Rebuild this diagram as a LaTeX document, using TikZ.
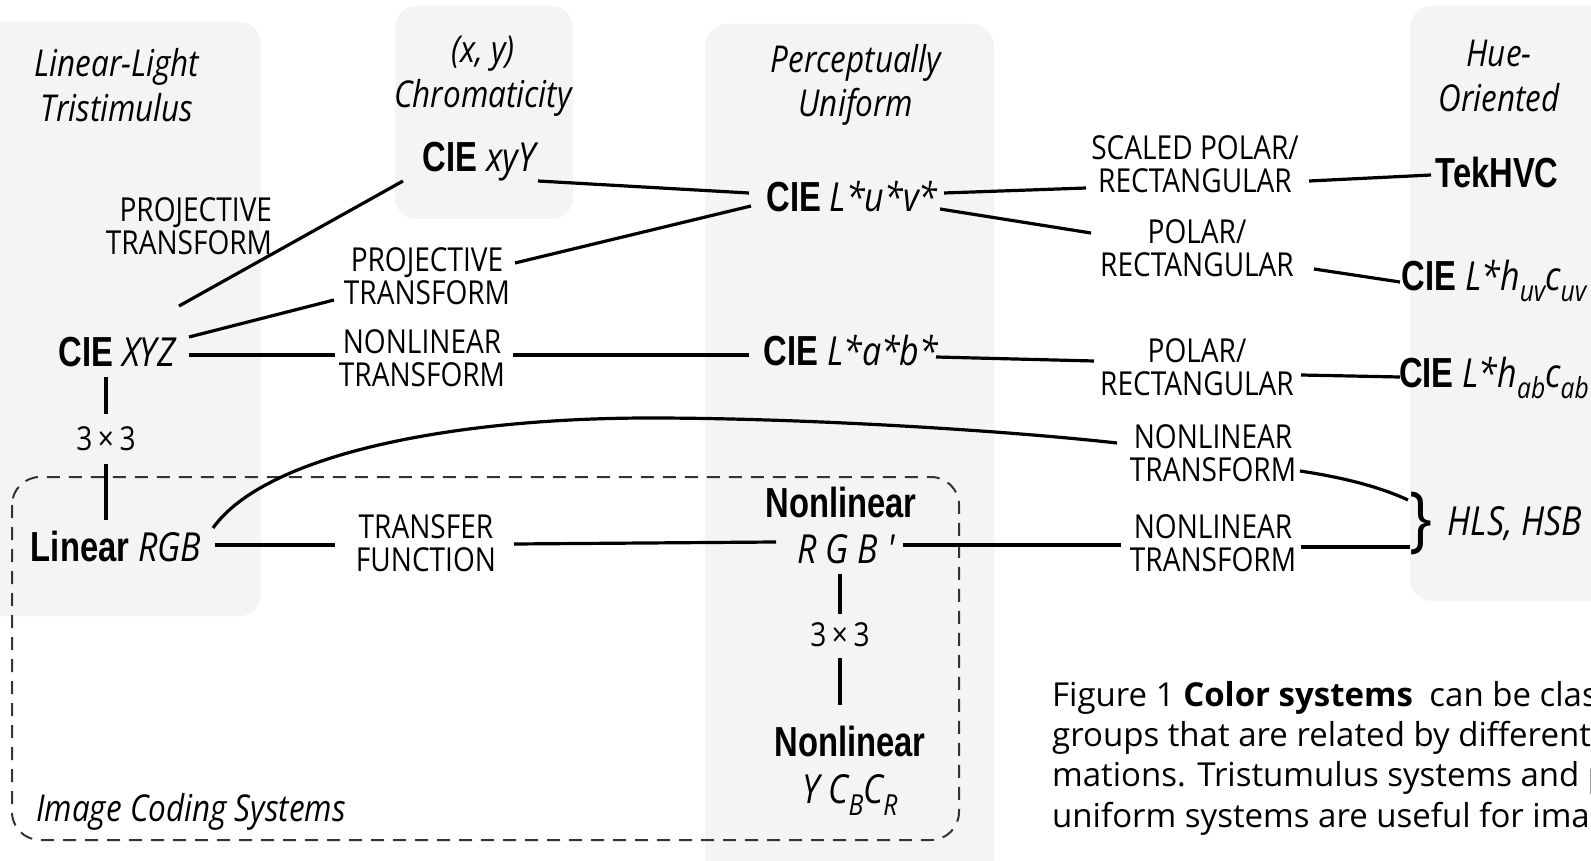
\documentclass[tikz,border=0pt]{standalone}
\usepackage{fontspec}
\setmainfont{Open Sans}
\newfontfamily\bcond{Liberation Sans}[FakeStretch=0.78]
\newfontfamily\ocond{Open Sans}[FakeStretch=0.85]
\usetikzlibrary{calc}
\definecolor{boxgray}{HTML}{F4F4F4}
\definecolor{dashgray}{HTML}{333333}
\newcommand\B[1]{{\bcond\bfseries\fontsize{42}{46}\selectfont #1}}
\newcommand\I[1]{{\ocond\itshape\fontsize{40}{46}\selectfont #1}}
\newcommand\Sb[1]{\raisebox{-0.28em}{\fontsize{29}{29}\selectfont #1}}
\tikzset{
  sys/.style={inner sep=0pt, font=\ocond\fontsize{40}{46}\selectfont},
  lbl/.style={inner sep=0pt, align=center, font=\ocond\fontsize{33}{33.5}\selectfont},
  lblr/.style={inner sep=0pt, align=right, font=\ocond\fontsize{33}{33.5}\selectfont},
  hdr/.style={inner sep=0pt, align=center, font=\ocond\itshape\fontsize{37}{44.5}\selectfont},
  grp/.style={fill=boxgray, rounded corners=22pt},
  conn/.style={line width=3.2pt, line cap=butt},
  codebox/.style={draw=dashgray, line width=2pt, dash pattern=on 13pt off 9pt, rounded corners=28pt},
  capt/.style={inner sep=0pt, anchor=base west, font=\fontsize{33}{40}\selectfont},
}
\begin{document}
\begin{tikzpicture}[x=1pt, y=-1pt]
\clip (0,0) rectangle (1591,861);
\fill[white] (0,0) rectangle (1591,861);
% group backgrounds
\path[grp] (-30,22) rectangle (261,616);
\path[grp] (395,6) rectangle (573,219);
\path[grp] (705,24) rectangle (994,900);
\path[grp] (1410,6) rectangle (1640,601);
% image coding dashed box
\draw[codebox] (12,477) rectangle (959,840);

% headers
\node[hdr] (hLL) at (117,85) {Linear-Light\\Tristimulus};
\node[hdr] (hChr) at (483,76) {(x, y)\\Chromaticity};
\node[hdr] (hPU) at (856,85) {Perceptually\\Uniform};
\node[hdr] (hHue) at (1499,76) {Hue-\\Oriented};

% systems
\node[sys] (xyy) at (479,162) {\B{CIE} \I{xyY}};
\node[sys] (luv) at (852,196) {\B{CIE} \I{L*u*v*}};
\node[sys] (tek) at (1497,172) {\B{TekHVC}};
\node[sys] (luvh) at (1494,281) {\B{CIE} \I{L*h\Sb{uv}c\Sb{uv}}};
\node[sys] (xyz) at (117,352) {\B{CIE} \I{XYZ}};
\node[sys] (lab) at (851,350) {\B{CIE} \I{L*a*b*}};
\node[sys] (labh) at (1494,378) {\B{CIE} \I{L*h\Sb{ab}c\Sb{ab}}};
\node[sys] (lrgb) at (116,546) {\B{Linear} \I{RGB}};
\node[sys] (nl1) at (841,502) {\B{Nonlinear}};
\node[sys] (rgbp) at (846,549) {\I{R G B '}};
\node[sys] (nl2) at (850,741) {\B{Nonlinear}};
\node[sys] (ycc) at (850,795) {\I{Y C\Sb{B}C\Sb{R}}};
\node[sys] (hls) at (1515,524) {\I{HLS, HSB}};
\node[sys] (brace) at (1421,523) {{\ocond\fontsize{72}{72}\selectfont\}}};

% transform labels
\node[lblr] (proj1) at (189,226) {PROJECTIVE\\TRANSFORM};
\node[lbl] (proj2) at (427,276) {PROJECTIVE\\TRANSFORM};
\node[lbl] (scaled) at (1195,164) {SCALED POLAR/\\RECTANGULAR};
\node[lbl] (polar1) at (1197,248) {POLAR/\\RECTANGULAR};
\node[lbl] (nonlin1) at (422,358) {NONLINEAR\\TRANSFORM};
\node[lbl] (polar2) at (1197,367) {POLAR/\\RECTANGULAR};
\node[lbl] (nonlin2) at (1213,453) {NONLINEAR\\TRANSFORM};
\node[lbl] (transfer) at (426,543) {TRANSFER\\FUNCTION};
\node[lbl] (nonlin3) at (1213,543) {NONLINEAR\\TRANSFORM};
\node[lbl] (m1) at (106,439) {3\,×\,3};
\node[lbl] (m2) at (840,635) {3\,×\,3};

\node[inner sep=0pt, anchor=west, font=\ocond\itshape\fontsize{37}{40}\selectfont] (ics) at (36,812) {Image Coding Systems};

% caption
\node[capt] (cap1) at (1052,706) {Figure 1 \textbf{Color systems}\enspace can be clas};
\node[capt] (cap2) at (1052,746) {groups that are related by different};
\node[capt] (cap3) at (1052,786) {mations. Tristumulus systems and p};
\node[capt] (cap4) at (1052,827) {uniform systems are useful for ima};

% connectors
\draw[conn] ($(xyz)+(62,-46)$) -- ($(xyy)+(-76,19)$);
\draw[conn] ($(xyz)+(72,-15)$) -- ($(proj2)+(-93,24)$);
\draw[conn] ($(proj2)+(88,-13)$) -- ($(luv)+(-101,10)$);
\draw[conn] ($(xyy)+(59,19)$) -- ($(luv)+(-103,-3)$);
\draw[conn] ($(luv)+(92,-3)$) -- ($(scaled)+(-109,24)$);
\draw[conn] ($(scaled)+(114,17)$) -- ($(tek)+(-66,3)$);
\draw[conn] ($(luv)+(88,13)$) -- ($(polar1)+(-106,-15)$);
\draw[conn] ($(polar1)+(117,21)$) -- ($(luvh)+(-94,1)$);
\draw[conn] ($(xyz)+(72,3)$) -- ($(nonlin1)+(-87,-3)$);
\draw[conn] ($(nonlin1)+(91,-3)$) -- ($(lab)+(-102,5)$);
\draw[conn] ($(lab)+(85,7)$) -- ($(polar2)+(-103,-6)$);
\draw[conn] ($(polar2)+(104,8)$) -- ($(labh)+(-94,-1)$);
\draw[conn] ($(xyz)+(-11,25)$) -- ($(m1)+(0,-25)$);
\draw[conn] ($(m1)+(0,25)$) -- ($(lrgb)+(-10,-26)$);
\draw[conn] ($(lrgb)+(97,-18)$) .. controls (265,455) and (450,418) .. (650,418)
   .. controls (800,418) and (1000,430) .. ($(nonlin2)+(-96,-10)$);
\draw[conn] ($(nonlin2)+(87,18)$) .. controls +(40,6) and +(-30,-14) .. ($(brace)+(-13,-23)$);
\draw[conn] ($(lrgb)+(99,-1)$) -- ($(transfer)+(-91,2)$);
\draw[conn] ($(transfer)+(88,1)$) -- ($(rgbp)+(-70,-7)$);
\draw[conn] ($(rgbp)+(57,-4)$) -- ($(nonlin3)+(-92,2)$);
\draw[conn] ($(nonlin3)+(88,4)$) -- ($(brace)+(-11,24)$);
\draw[conn] ($(rgbp)+(-6,25)$) -- ($(m2)+(0,-21)$);
\draw[conn] ($(m2)+(0,23)$) -- ($(nl2)+(-10,-36)$);
\end{tikzpicture}
\end{document}
